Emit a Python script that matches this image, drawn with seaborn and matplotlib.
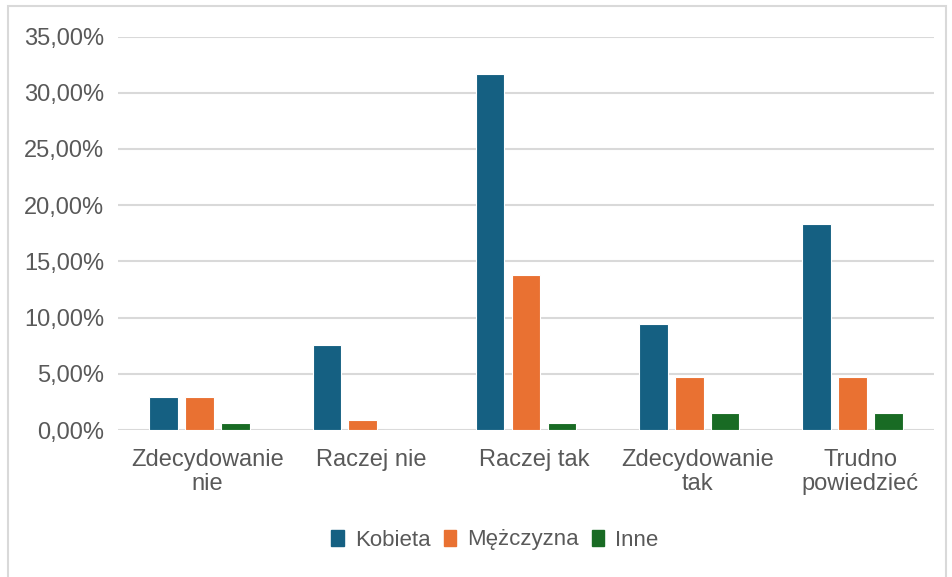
import pandas as pd
import matplotlib.pyplot as plt
import matplotlib.patches as mpatches
import matplotlib.transforms as mtransforms
from matplotlib.ticker import FuncFormatter
import seaborn as sns

categories = ['Zdecydowanie\nnie', 'Raczej nie', 'Raczej tak', 'Zdecydowanie\ntak', 'Trudno\npowiedzieć']
series = ['Kobieta', 'Mężczyzna', 'Inne']
kobieta = [2.94, 7.6, 31.7, 9.45, 18.35]
mezczyzna = [2.94, 0.9, 13.75, 4.7, 4.7]
inne = [0.6, 0.0, 0.6, 1.48, 1.48]
colors = ['#156082', '#E97132', '#196B24']

rows = []
for name, vals in zip(series, [kobieta, mezczyzna, inne]):
    for cat, v in zip(categories, vals):
        rows.append({'kategoria': cat, 'plec': name, 'procent': v})
df = pd.DataFrame(rows)

sns.set_style('white')
plt.rcParams['font.family'] = ['Liberation Sans', 'DejaVu Sans']
text_color = '#595959'

fig = plt.figure(figsize=(9.52, 5.77), dpi=100)
ax = fig.add_axes([118 / 952, 1 - 430 / 577, 816 / 952, (430 - 36.5) / 577])

sns.barplot(data=df, x='kategoria', y='procent', hue='plec', hue_order=series,
            order=categories, palette=colors, saturation=1, width=0.66, gap=0.2,
            edgecolor='white', linewidth=0.8, ax=ax, legend=False)

ax.set_ylim(0, 35)
ax.set_yticks(range(0, 36, 5))
ax.yaxis.set_major_formatter(FuncFormatter(lambda v, p: f'{v:.2f}%'.replace('.', ',')))
ax.grid(axis='y', color='#d9d9d9', linewidth=1.5)
ax.set_axisbelow(True)
for s in ax.spines.values():
    s.set_visible(False)
ax.set_xlabel('')
ax.set_ylabel('')
ax.tick_params(axis='y', length=0, pad=10, labelsize=17, labelcolor=text_color)
ax.tick_params(axis='x', length=0, pad=14, labelsize=17, labelcolor=text_color)
shift = mtransforms.ScaledTranslation(8 / 100, 0, fig.dpi_scale_trans)
for lbl in ax.get_xticklabels():
    lbl.set_linespacing(1.1)
    lbl.set_transform(lbl.get_transform() + shift)

handles = [mpatches.Patch(color=c, label=s) for c, s in zip(colors, series)]
fig.legend(handles=handles, loc='center', bbox_to_anchor=(495 / 952, 1 - 540 / 577),
           ncol=3, frameon=False, fontsize=16, labelcolor=text_color,
           handlelength=0.55, handleheight=0.7, handletextpad=0.5, columnspacing=0.6)

# light chart-area border
fig.patches.append(mpatches.Rectangle((8 / 952, -0.01), (946 - 8) / 952, 1 - 6 / 577 + 0.01,
                                      transform=fig.transFigure, fill=False,
                                      edgecolor='#d9d9d9', linewidth=1.5))

fig.savefig('out.png', dpi=100)
